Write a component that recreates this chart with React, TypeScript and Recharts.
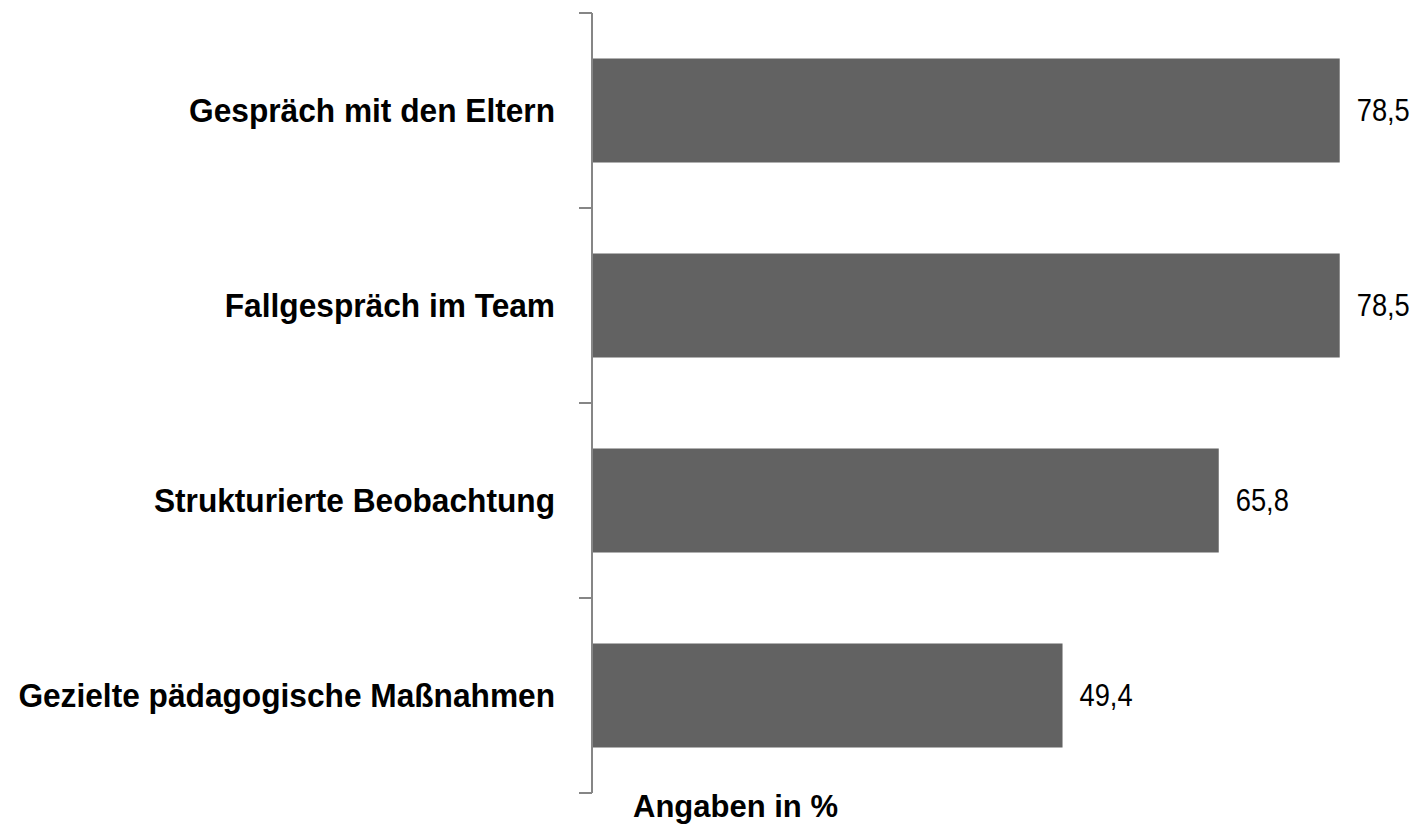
import React from "react";
import { BarChart, Bar, XAxis, YAxis, LabelList } from "recharts";

const categories = [
  "Gespräch mit den Eltern",
  "Fallgespräch im Team",
  "Strukturierte Beobachtung",
  "Gezielte pädagogische Maßnahmen",
];
const values = [78.5, 78.5, 65.8, 49.4];
const axisTitle = "Angaben in %";

const data = categories.map((name, i) => ({ name, value: values[i] }));

const W = 1416;
const H = 830;
const TOP = 13;
const BOTTOM = 37;
const AXIS_W = 592;
const RIGHT = 62;
const TICK_GAP = 37;
const TICK_LEN = 13;
const FONT = "'Liberation Sans', Arial, sans-serif";
const band = (H - TOP - BOTTOM) / categories.length;

// narrow-looking text: squeeze horizontally around the anchor point
const CategoryTick = (props: any) => {
  const { x, y, payload, index } = props;
  const ax = x + TICK_GAP;
  return (
    <g>
      <text
        transform={`translate(${x},${y}) scale(0.96,1)`}
        x={0}
        y={0}
        textAnchor="end"
        dominantBaseline="central"
        fontFamily={FONT}
        fontWeight="bold"
        fontSize={33}
        fill="#000"
      >
        {payload.value}
      </text>
      {index === 0 && (
        <line x1={ax - TICK_LEN} x2={ax} y1={y - band / 2} y2={y - band / 2} stroke="#868686" strokeWidth={2} />
      )}
      <line x1={ax - TICK_LEN} x2={ax} y1={y + band / 2} y2={y + band / 2} stroke="#868686" strokeWidth={2} />
    </g>
  );
};

const ValueLabel = (props: any) => {
  const { x, y, width, height, value } = props;
  const tx = Number(x) + Number(width) + 17;
  const ty = Number(y) + Number(height) / 2;
  return (
    <text
      transform={`translate(${tx},${ty}) scale(0.88,1)`}
      x={0}
      y={0}
      textAnchor="start"
      dominantBaseline="central"
      fontFamily={FONT}
      fontSize={31}
      fill="#000"
    >
      {String(value).replace(".", ",")}
    </text>
  );
};

export default function App() {
  return (
    <div style={{ position: "absolute", left: 0, top: 0, width: W, height: H, background: "#fff" }}>
      <BarChart
        width={W}
        height={H}
        data={data}
        layout="vertical"
        margin={{ top: TOP, right: RIGHT, left: 0, bottom: BOTTOM }}
        barCategoryGap="23.3%"
      >
        <XAxis type="number" domain={[0, 80]} hide />
        <YAxis
          type="category"
          dataKey="name"
          width={AXIS_W}
          tickLine={false}
          tickSize={0}
          tickMargin={TICK_GAP}
          axisLine={{ stroke: "#868686", strokeWidth: 2 }}
          tick={<CategoryTick />}
          interval={0}
        />
        <Bar dataKey="value" fill="#626262" isAnimationActive={false}>
          <LabelList dataKey="value" content={<ValueLabel />} />
        </Bar>
      </BarChart>
      <div
        style={{
          position: "absolute",
          left: 633,
          top: 790,
          fontFamily: FONT,
          fontWeight: "bold",
          fontSize: 31,
          color: "#000",
          lineHeight: "34px",
        }}
      >
        {axisTitle}
      </div>
    </div>
  );
}
